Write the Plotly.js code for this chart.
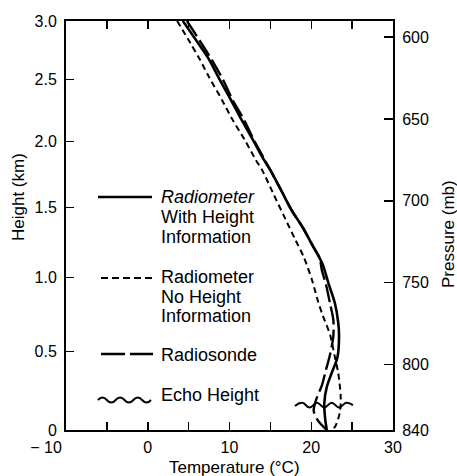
<!DOCTYPE html>
<html>
<head>
<meta charset="utf-8">
<script src="https://cdn.plot.ly/plotly-3.0.1.min.js"></script>
<style>html,body{margin:0;padding:0;background:#fff;}#chart{width:457px;height:476px;}</style>
</head>
<body>
<div id="chart"></div>
<script>
// ---- data (temperature in °C, height in km) ----
const solidT = [4.3, 5.9, 7.4, 8.8, 10.2, 11.5, 12.9, 14.2, 15.0, 16.3, 17.6, 19.0, 20.3, 20.8, 21.4, 22.1, 22.9, 23.3, 23.4, 23.2, 22.5, 21.9, 21.6, 21.7, 21.9];
const solidZ = [3.0, 2.835, 2.68, 2.5, 2.33, 2.17, 2.01, 1.86, 1.78, 1.63, 1.48, 1.35, 1.21, 1.16, 1.09, 0.96, 0.82, 0.69, 0.60, 0.46, 0.36, 0.27, 0.17, 0.07, 0.0];

const noHeightT = [3.6, 5.2, 6.4, 7.5, 9.1, 10.4, 11.9, 13.2, 14.0, 15.3, 16.8, 18.1, 19.1, 20.1, 20.8, 21.4, 22.3, 22.9, 23.3, 23.6, 23.5, 22.9, 22.3];
const noHeightZ = [3.0, 2.81, 2.665, 2.52, 2.33, 2.17, 2.01, 1.86, 1.78, 1.61, 1.42, 1.26, 1.14, 0.98, 0.84, 0.74, 0.61, 0.46, 0.36, 0.21, 0.11, 0.02, 0.0];

const sondeT = [4.8, 6.3, 7.7, 9.2, 10.4, 11.8, 13.0, 14.3, 15.0, 16.3, 17.6, 19.0, 20.3, 21.0, 21.3, 21.8, 22.3, 22.7, 22.7, 22.3, 21.8, 21.3, 20.6, 20.3, 20.8, 21.9];
const sondeZ = [3.0, 2.835, 2.68, 2.5, 2.33, 2.17, 2.01, 1.86, 1.78, 1.63, 1.48, 1.35, 1.21, 1.14, 1.05, 0.95, 0.82, 0.71, 0.60, 0.48, 0.38, 0.28, 0.19, 0.12, 0.06, 0.0];

const echoT = [18.0, 18.9, 19.8, 20.7, 21.6, 22.5, 23.4, 24.3, 25.1];
const echoZ = [0.15, 0.17, 0.14, 0.17, 0.14, 0.17, 0.14, 0.17, 0.155];

const xTickVals = [-10, -5, 0, 5, 10, 15, 20, 25, 30];
const xTickText = ['\u2212 10\u00a0\u00a0\u00a0\u00a0\u00a0\u00a0\u00a0\u00a0\u00a0', '', '0', '', '10', '', '20', '', '30'];
const heightTicks = [0, 0.5, 1.0, 1.5, 2.0, 2.5, 3.0];
const heightLabels = ['0', '0.5', '1.0', '1.5', '2.0', '2.5', '3.0'];
const pressureTicks = [600, 650, 700, 750, 800, 840];
const pressureLabels = ['600', '650', '700', '750', '800', '840'];

// pressure (mb) axis is linear; height converted with hypsometric relation
const P0 = 840, H = 8.5;
const toP = z => P0 * Math.exp(-z / H);

const FONT = 'Liberation Sans, Arial, Helvetica, sans-serif';
const yRange = [toP(0), toP(3.0)];

const traces = [
  {x: solidT, y: solidZ.map(toP), mode: 'lines', name: 'Radiometer With Height Information',
   line: {color: '#000', width: 2.6, shape: 'spline', smoothing: 0.8}},
  {x: noHeightT, y: noHeightZ.map(toP), mode: 'lines', name: 'Radiometer No Height Information',
   line: {color: '#000', width: 2, dash: '6px,4px', shape: 'spline', smoothing: 0.8}},
  {x: sondeT, y: sondeZ.map(toP), mode: 'lines', name: 'Radiosonde',
   line: {color: '#000', width: 2.4, dash: '18px,5px', shape: 'spline', smoothing: 0.8}},
  {x: echoT, y: echoZ.map(toP), mode: 'lines', name: 'Echo Height',
   line: {color: '#000', width: 2, shape: 'spline', smoothing: 1.2}},
  {x: [], y: [], yaxis: 'y2', mode: 'lines', showlegend: false}
];

function px2x(px) { return (px - 66) / 327; }
function px2y(py) { return (430 - py) / 409; }

const legText = [
  ['<i>Radiometer</i>', 197], ['With Height', 217], ['Information', 237],
  ['Radiometer', 277], ['No Height', 297], ['Information', 316],
  ['Radiosonde', 355], ['Echo Height', 395]
];
const annotations = legText.map(([t, py]) => ({
  text: t, xref: 'paper', yref: 'paper', x: px2x(159), y: px2y(py),
  xanchor: 'left', yanchor: 'middle', showarrow: false,
  font: {family: FONT, size: 18, color: '#000'}
}));
annotations.push(
  {text: 'Height (km)', xref: 'paper', yref: 'paper', x: px2x(18), y: px2y(197), textangle: -90,
   xanchor: 'center', yanchor: 'middle', showarrow: false, font: {family: FONT, size: 17, color: '#000'}},
  {text: 'Pressure (mb)', xref: 'paper', yref: 'paper', x: px2x(448), y: px2y(234), textangle: -90,
   xanchor: 'center', yanchor: 'middle', showarrow: false, font: {family: FONT, size: 17, color: '#000'}},
  {text: 'Temperature (°C)', xref: 'paper', yref: 'paper', x: px2x(234), y: px2y(467),
   xanchor: 'center', yanchor: 'middle', showarrow: false, font: {family: FONT, size: 17, color: '#000'}}
);

// legend samples (paper coordinates)
const wy = px2y(400), amp = 0.0125, x0 = px2x(98), hp = (px2x(151) - px2x(98)) / 6;
let wave = 'M' + x0 + ',' + wy;
for (let i = 0; i < 6; i++) {
  const cx = x0 + (i + 0.5) * hp, ex = x0 + (i + 1) * hp;
  const cy = wy + (i % 2 === 0 ? amp : -amp);
  wave += ' Q' + cx + ',' + cy + ' ' + ex + ',' + wy;
}
const shapes = [
  {type: 'line', xref: 'paper', yref: 'paper', x0: px2x(98), x1: px2x(152), y0: px2y(197), y1: px2y(197),
   line: {color: '#000', width: 2.6}},
  {type: 'line', xref: 'paper', yref: 'paper', x0: px2x(101), x1: px2x(153), y0: px2y(278), y1: px2y(278),
   line: {color: '#000', width: 2, dash: '7px,4px'}},
  {type: 'line', xref: 'paper', yref: 'paper', x0: px2x(101), x1: px2x(153), y0: px2y(354), y1: px2y(354),
   line: {color: '#000', width: 2.4, dash: '24px,5px'}},
  {type: 'path', xref: 'paper', yref: 'paper', path: wave, line: {color: '#000', width: 2}}
];

const axisCommon = {
  showgrid: false, zeroline: false, showline: true, linecolor: '#000', linewidth: 2,
  ticks: 'inside', ticklen: 8, tickwidth: 1.5, tickcolor: '#000',
  tickfont: {family: FONT, size: 16, color: '#000'}, fixedrange: true
};

const layout = {
  width: 457, height: 476,
  margin: {l: 66, r: 64, t: 21, b: 46},
  paper_bgcolor: '#fff', plot_bgcolor: '#fff',
  showlegend: false,
  xaxis: Object.assign({}, axisCommon, {
    range: [-10, 30], tickmode: 'array', tickvals: xTickVals, ticktext: xTickText,
    mirror: 'ticks', ticklabelstandoff: 2
  }),
  yaxis: Object.assign({}, axisCommon, {
    range: yRange, tickmode: 'array', tickvals: heightTicks.map(toP), ticktext: heightLabels,
    side: 'left', ticklabelstandoff: 4
  }),
  yaxis2: Object.assign({}, axisCommon, {
    range: yRange, tickmode: 'array', tickvals: pressureTicks, ticktext: pressureLabels,
    overlaying: 'y', side: 'right', ticklen: 9, ticklabelstandoff: 4
  }),
  annotations: annotations,
  shapes: shapes
};

Plotly.newPlot('chart', traces, layout, {displayModeBar: false, staticPlot: true});
</script>
</body>
</html>
